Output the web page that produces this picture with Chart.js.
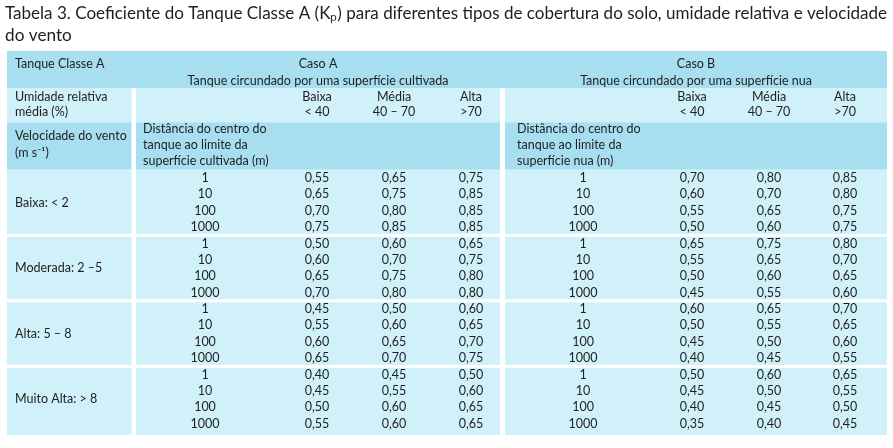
<!DOCTYPE html>
<html lang="pt">
<head>
  <meta charset="UTF-8">
  <title>Tabela 3 - Tanque Classe A</title>
  <script src="https://cdn.jsdelivr.net/npm/chart.js@4.4.0/dist/chart.umd.min.js"></script>
  <style>
    body { margin: 0; background: #fff; }
    .chart-container { position: relative; width: 893px; height: 448px; }
  </style>
</head>
<body>
<div class="chart-container"><canvas id="chart"></canvas></div>

<script>
  const windClasses = ['Baixa: < 2', 'Moderada: 2 \u20135', 'Alta: 5 \u2013 8', 'Muito Alta: > 8'];
  const distances = ['1', '10', '100', '1000'];
  const humidityClasses = ['Baixa', 'Média', 'Alta'];
  const humidityRanges = ['< 40', '40 \u2013 70', '>70'];

  // Caso A - tanque circundado por superficie cultivada (16 rows: wind x distance)
  const casoABaixa = [0.55, 0.65, 0.70, 0.75, 0.50, 0.60, 0.65, 0.70, 0.45, 0.55, 0.60, 0.65, 0.40, 0.45, 0.50, 0.55];
  const casoAMedia = [0.65, 0.75, 0.80, 0.85, 0.60, 0.70, 0.75, 0.80, 0.50, 0.60, 0.65, 0.70, 0.45, 0.55, 0.60, 0.60];
  const casoAAlta  = [0.75, 0.85, 0.85, 0.85, 0.65, 0.75, 0.80, 0.80, 0.60, 0.65, 0.70, 0.75, 0.50, 0.60, 0.65, 0.65];

  // Caso B - tanque circundado por superficie nua
  const casoBBaixa = [0.70, 0.60, 0.55, 0.50, 0.65, 0.55, 0.50, 0.45, 0.60, 0.50, 0.45, 0.40, 0.50, 0.45, 0.40, 0.35];
  const casoBMedia = [0.80, 0.70, 0.65, 0.60, 0.75, 0.65, 0.60, 0.55, 0.65, 0.55, 0.50, 0.45, 0.60, 0.50, 0.45, 0.40];
  const casoBAlta  = [0.85, 0.80, 0.75, 0.75, 0.80, 0.70, 0.65, 0.60, 0.70, 0.65, 0.60, 0.55, 0.65, 0.55, 0.50, 0.45];

  const cases = [
    { name: 'Caso A', sub: 'Tanque circundado por uma superfície cultivada',
      dist: ['Distância do centro do', 'tanque ao limite da', 'superfície cultivada (m)'],
      cols: [casoABaixa, casoAMedia, casoAAlta] },
    { name: 'Caso B', sub: 'Tanque circundado por uma superfície nua',
      dist: ['Distância do centro do', 'tanque ao limite da', 'superfície nua (m)'],
      cols: [casoBBaixa, casoBMedia, casoBAlta] }
  ];

  // --- layout (x in px from table left, y in table rows) ---
  const layout = {
    left: [0, 124.5],
    blocks: [[129, 493], [498, 880]],
    distX: [198, 576],
    distTextX: [136, 510],
    valX: [[310, 387, 464], [685, 762, 838]],
    labelX: 8,
    head1: [0, 2.26], head2: [2.26, 4.35], head3: [4.35, 7.25],
    dataTop: 7.25, bottom: 23.44
  };
  const dark = '#a8dff0';
  const light = '#d0f1fa';
  const textColor = '#1e1e1e';
  const font = '12.5px Lato';

  const fmt = v => v.toFixed(2).replace('.', ',');

  const tablePlugin = {
    id: 'table',
    beforeDraw(chart) {
      const { ctx, scales: { x, y } } = chart;
      const px = v => x.getPixelForValue(v);
      const py = v => y.getPixelForValue(v);
      const rect = (x0, x1, y0, y1, color, inset) => {
        inset = inset || [0, 0];
        ctx.fillStyle = color;
        ctx.fillRect(px(x0), py(y0) + inset[0], px(x1) - px(x0), py(y1) - py(y0) - inset[0] - inset[1]);
      };
      const text = (s, xv, yv, align) => {
        ctx.textAlign = align || 'center';
        ctx.fillText(s, px(xv), py(yv));
      };

      ctx.save();
      // backgrounds
      rect(0, 880, layout.head1[0], layout.head1[1], dark);
      [layout.left].concat(layout.blocks).forEach(c => {
        rect(c[0], c[1], layout.head2[0], layout.head2[1], light);
        rect(c[0], c[1], layout.head3[0], layout.head3[1], dark);
        windClasses.forEach((w, g) => {
          const y0 = layout.dataTop + g * 4;
          const y1 = g === windClasses.length - 1 ? layout.bottom : y0 + 4;
          rect(c[0], c[1], y0, y1, light, [g === 0 ? 0 : 1.5, g === windClasses.length - 1 ? 0 : 1.5]);
        });
      });

      ctx.fillStyle = textColor;
      ctx.font = font;
      ctx.textBaseline = 'middle';

      // header row 1
      text('Tanque Classe A', layout.labelX, 0.79, 'left');
      cases.forEach((c, k) => {
        const cx = (layout.blocks[k][0] + layout.blocks[k][1]) / 2;
        text(c.name, cx, 0.79);
        text(c.sub, cx, 1.83);
      });

      // header row 2
      text('Umidade relativa', layout.labelX, 2.81, 'left');
      text('média (%)', layout.labelX, 3.72, 'left');
      cases.forEach((c, k) => {
        humidityClasses.forEach((h, j) => {
          text(h, layout.valX[k][j], 2.81);
          text(humidityRanges[j], layout.valX[k][j], 3.72);
        });
      });

      // header row 3
      text('Velocidade do vento', layout.labelX, 5.19, 'left');
      text('(m s\u207B\u00B9)', layout.labelX, 6.23, 'left');
      cases.forEach((c, k) => {
        c.dist.forEach((line, i) => text(line, layout.distTextX[k], 4.76 + i * 0.98, 'left'));
      });

      // data rows
      windClasses.forEach((w, g) => {
        text(w, layout.labelX, layout.dataTop + g * 4 + 2, 'left');
        distances.forEach((d, i) => {
          const r = g * 4 + i;
          const yc = layout.dataTop + r + 0.5;
          cases.forEach((c, k) => {
            text(d, layout.distX[k], yc);
            c.cols.forEach((col, j) => text(fmt(col[r]), layout.valX[k][j], yc));
          });
        });
      });
      ctx.restore();
    }
  };

  const ctx = document.getElementById('chart').getContext('2d');
  const myChart = new Chart(ctx, {
    type: 'scatter',
    data: { datasets: [] },
    options: {
      responsive: true,
      maintainAspectRatio: false,
      animation: false,
      events: [],
      layout: { padding: { left: 5, right: 6, top: 0, bottom: 13 } },
      scales: {
        x: { type: 'linear', display: false, min: -2, max: 880 },
        y: { type: 'linear', display: false, reverse: true, min: 0, max: layout.bottom }
      },
      plugins: {
        legend: { display: false },
        tooltip: { enabled: false },
        title: {
          display: true,
          align: 'start',
          text: ['Tabela 3. Coeficiente do Tanque Classe A (K\u209A) para diferentes tipos de cobertura do solo, umidade relativa e velocidade', 'do vento'],
          color: textColor,
          font: { family: 'Lato', size: 17.2, weight: 'normal', lineHeight: 1.25 },
          padding: { top: 3, bottom: 5 }
        }
      }
    },
    plugins: [tablePlugin]
  });
</script>
</body>
</html>
